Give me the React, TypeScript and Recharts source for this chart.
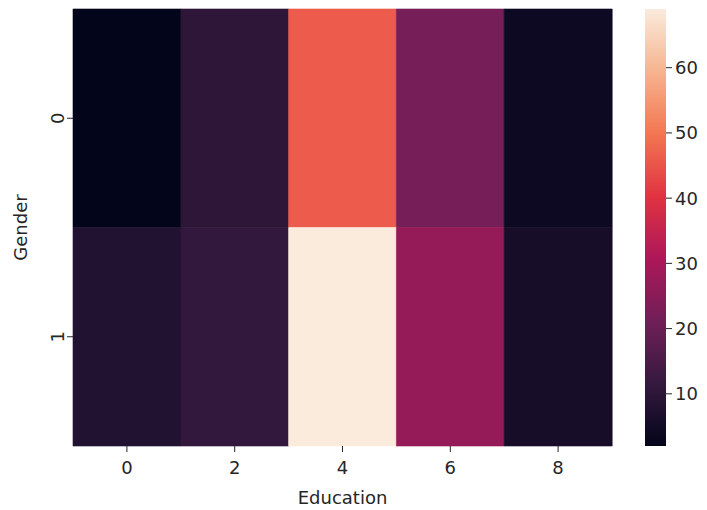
import React from 'react';
import { BarChart, Bar, XAxis, YAxis, Cell } from 'recharts';

// heatmap counts
const educationLevels = ['0', '2', '4', '6', '8'];
const genderLevels = ['0', '1'];
const gender0Counts = [2, 10, 46, 22, 4];
const gender1Counts = [8, 11, 69, 27, 6];
const colorbarTicks = [10, 20, 30, 40, 50, 60];

// seaborn "rocket" colormap anchors
const rocket: [number, string][] = [
  [0, '#03051a'],
  [1 / 7, '#35193e'],
  [2 / 7, '#701f57'],
  [3 / 7, '#ad1759'],
  [4 / 7, '#e13342'],
  [5 / 7, '#f37651'],
  [6 / 7, '#f6b48f'],
  [1, '#faebdd'],
];

const allCounts = [...gender0Counts, ...gender1Counts];
const vMin = Math.min(...allCounts);
const vMax = Math.max(...allCounts);

function hex(c: string) {
  return [1, 3, 5].map((i) => parseInt(c.slice(i, i + 2), 16));
}

function rocketColor(v: number) {
  const t = Math.max(0, Math.min(1, (v - vMin) / (vMax - vMin)));
  for (let i = 1; i < rocket.length; i++) {
    const [t1, c1] = rocket[i];
    const [t0, c0] = rocket[i - 1];
    if (t <= t1) {
      const f = (t - t0) / (t1 - t0);
      const a = hex(c0);
      const b = hex(c1);
      const m = a.map((x, k) => Math.round(x + (b[k] - x) * f));
      return `rgb(${m[0]},${m[1]},${m[2]})`;
    }
  }
  return rocket[rocket.length - 1][1];
}

const cellData = educationLevels.map((e) => ({
  education: e,
  row0: 1,
  row1: 1,
}));
const rowCounts = [gender0Counts, gender1Counts];

const colorbarData = [{ name: 'cb', range: [vMin, vMax] }];

const FONT = "'DejaVu Sans', sans-serif";
const TXT = '#262626';
const FS = 18;

function GenderTick({ x, y, payload }: any) {
  return (
    <text
      transform={`translate(${x},${y}) rotate(-90)`}
      textAnchor="middle"
      fill={TXT}
      fontSize={FS}
      fontFamily={FONT}
    >
      {genderLevels[Math.floor(payload.value)]}
    </text>
  );
}

export default function App() {
  return (
    <div style={{ position: 'absolute', left: 0, top: 0, width: 707, height: 510, background: '#fff' }}>
      <div style={{ position: 'absolute', left: 0, top: 0 }}>
        <BarChart
          width={707}
          height={510}
          data={cellData}
          margin={{ top: 9, right: 95, bottom: 0, left: 0 }}
          barCategoryGap={0}
          barGap={0}
        >
          <XAxis
            dataKey="education"
            height={64}
            tickSize={6}
            tickMargin={9}
            axisLine={false}
            tickLine={{ stroke: TXT }}
            tick={{ fill: TXT, fontSize: FS, fontFamily: FONT }}
            label={{
              content: ({ viewBox }: any) => (
                <text
                  x={viewBox.x + viewBox.width / 2}
                  y={viewBox.y + 51}
                  textAnchor="middle"
                  dominantBaseline="central"
                  fill={TXT}
                  fontSize={FS}
                  fontFamily={FONT}
                >
                  Education
                </text>
              ),
            }}
          />
          <YAxis
            type="number"
            domain={[0, 2]}
            reversed
            ticks={[0.5, 1.5]}
            width={73}
            tickSize={6}
            tickMargin={3}
            axisLine={false}
            tickLine={{ stroke: TXT }}
            tick={<GenderTick />}
            label={{
              content: ({ viewBox }: any) => (
                <text
                  transform={`translate(${viewBox.x + 20},${viewBox.y + viewBox.height / 2}) rotate(-90)`}
                  textAnchor="middle"
                  dominantBaseline="central"
                  fill={TXT}
                  fontSize={FS}
                  fontFamily={FONT}
                >
                  Gender
                </text>
              ),
            }}
          />
          {['row0', 'row1'].map((key, r) => (
            <Bar key={key} dataKey={key} stackId="h" isAnimationActive={false}>
              {cellData.map((d, i) => {
                const c = rocketColor(rowCounts[r][i]);
                return <Cell key={i} fill={c} stroke={c} strokeWidth={0.6} />;
              })}
            </Bar>
          ))}
        </BarChart>
      </div>
      <div style={{ position: 'absolute', left: 600, top: 0 }}>
        <BarChart
          width={107}
          height={510}
          data={colorbarData}
          margin={{ top: 9, right: 0, bottom: 64, left: 45 }}
          barCategoryGap={0}
        >
          <defs>
            <linearGradient id="rocketGrad" x1="0" y1="1" x2="0" y2="0">
              {rocket.map(([t, c]) => (
                <stop key={t} offset={t} stopColor={c} />
              ))}
            </linearGradient>
          </defs>
          <XAxis dataKey="name" hide />
          <YAxis
            orientation="right"
            type="number"
            domain={[vMin, vMax]}
            ticks={colorbarTicks}
            width={41}
            tickSize={6}
            tickMargin={3}
            axisLine={false}
            tickLine={{ stroke: TXT }}
            tick={{ fill: TXT, fontSize: FS, fontFamily: FONT, textAnchor: 'start' }}
          />
          <Bar dataKey="range" fill="url(#rocketGrad)" isAnimationActive={false} />
        </BarChart>
      </div>
    </div>
  );
}
